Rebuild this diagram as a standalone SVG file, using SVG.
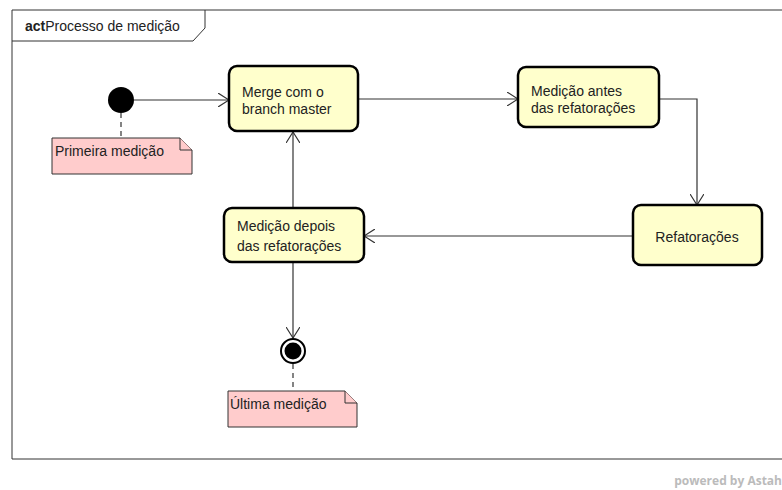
<svg xmlns="http://www.w3.org/2000/svg" width="782" height="490" viewBox="0 0 782 490">
  <style>
    .frame { fill: none; stroke: #333; stroke-width: 1; }
    .action { fill: #ffffcc; stroke: #000; stroke-width: 2.5; }
    .note { fill: #ffcccc; stroke: #333; stroke-width: 1; }
    .lbl { font-family: "Liberation Sans", Arial, sans-serif; font-size: 14px; fill: #222; }
    .edge { fill: none; stroke: #333; stroke-width: 1.2; }
    .anchor { fill: none; stroke: #333; stroke-width: 1.2; stroke-dasharray: 5 4; }
  </style>
  <defs>
    <marker id="open" viewBox="0 0 12 14" refX="11" refY="7" markerWidth="12" markerHeight="14" markerUnits="userSpaceOnUse" orient="auto">
      <path d="M0,0 L11,7 L0,14" fill="none" stroke="#333" stroke-width="1.2"/>
    </marker>
  </defs>
  <rect width="782" height="490" fill="#fff"/>

  <!-- activity frame -->
  <g id="frame">
    <path class="frame" d="M12,10 H790 M12,10 V459 H790"/>
    <path class="frame" d="M12,41 H193 L205,28 V10"/>
    <text x="25" y="31" class="lbl"><tspan font-weight="bold">act</tspan>Processo de medição</text>
  </g>

  <!-- connectors -->
  <g id="connectors">
    <line class="edge" x1="134" y1="100" x2="229" y2="100" marker-end="url(#open)"/>
    <line class="edge" x1="358" y1="99" x2="518" y2="99" marker-end="url(#open)"/>
    <polyline class="edge" points="659,99 697,99 697,205" marker-end="url(#open)"/>
    <line class="edge" x1="633" y1="236" x2="364" y2="236" marker-end="url(#open)"/>
    <line class="edge" x1="293" y1="208" x2="293" y2="132" marker-end="url(#open)"/>
    <line class="edge" x1="293" y1="262" x2="293" y2="338" marker-end="url(#open)"/>
    <line class="anchor" x1="121" y1="113" x2="121" y2="138"/>
    <line class="anchor" x1="293" y1="364" x2="293" y2="391"/>
  </g>

  <g id="initial">
    <circle cx="121" cy="100" r="13" fill="#000"/>
  </g>

  <g id="merge">
    <rect class="action" x="229" y="66" width="129" height="65" rx="8"/>
    <text class="lbl" x="242" y="97">Merge com o</text>
    <text class="lbl" x="242" y="114">branch master</text>
  </g>

  <g id="medicao-antes">
    <rect class="action" x="518" y="67" width="141" height="60" rx="8"/>
    <text class="lbl" x="531" y="96">Medição antes</text>
    <text class="lbl" x="531" y="113">das refatorações</text>
  </g>

  <g id="refatoracoes">
    <rect class="action" x="633" y="205" width="129" height="60" rx="8"/>
    <text class="lbl" x="697" y="242" text-anchor="middle">Refatorações</text>
  </g>

  <g id="medicao-depois">
    <rect class="action" x="224" y="208" width="140" height="54" rx="8"/>
    <text class="lbl" x="237" y="231">Medição depois</text>
    <text class="lbl" x="237" y="251">das refatorações</text>
  </g>

  <g id="final">
    <circle cx="293" cy="351" r="12" fill="#fff" stroke="#000" stroke-width="2"/>
    <circle cx="293" cy="351" r="8.5" fill="#000"/>
  </g>

  <g id="nota-primeira">
    <path class="note" d="M52,138 H180 L192,150 V174 H52 Z"/>
    <path class="note" d="M180,138 V150 H192" fill="none"/>
    <text class="lbl" x="55" y="156">Primeira medição</text>
  </g>

  <g id="nota-ultima">
    <path class="note" d="M228,391 H345 L357,403 V427 H228 Z"/>
    <path class="note" d="M345,391 V403 H357" fill="none"/>
    <text class="lbl" x="230" y="409">Última medição</text>
  </g>

  <text x="782" y="485" text-anchor="end" font-family="'Open Sans', 'DejaVu Sans', sans-serif" font-size="12" font-weight="bold" fill="#bbb">powered by Astah</text>
</svg>
